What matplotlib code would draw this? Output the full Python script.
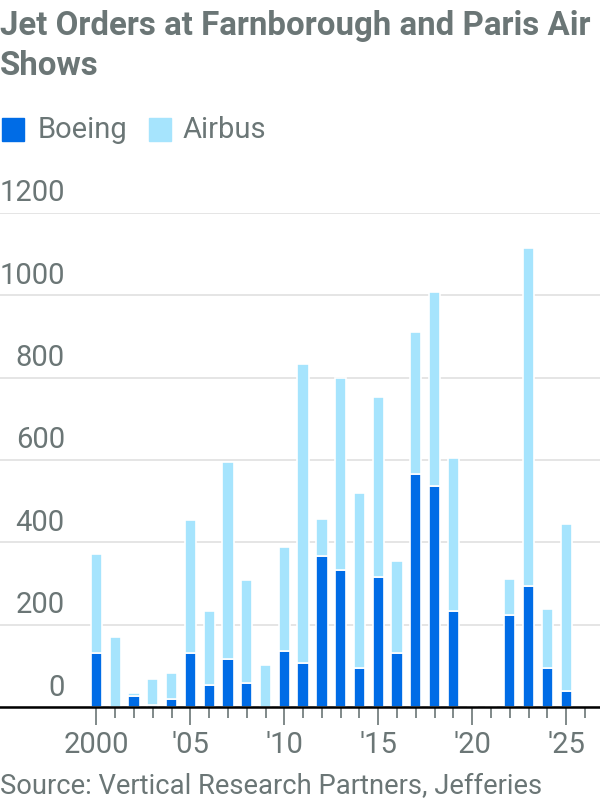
import matplotlib
matplotlib.use("Agg")
import matplotlib.pyplot as plt
from matplotlib.patches import Rectangle

plt.rcParams['font.family'] = ['Roboto', 'DejaVu Sans']

years = list(range(2000, 2026))
boeing = [132, 0, 26, 6, 21, 132, 55, 118, 59, 0, 137,
          108, 366, 332, 94, 317, 132, 565, 536, 234, 0, 0,
          225, 293, 94, 40]
airbus = [239, 170, 8, 63, 63, 322, 179, 477, 249, 103, 252,
          724, 92, 466, 427, 437, 224, 345, 471, 370, 0, 0,
          86, 822, 145, 404]
yticks = [0, 200, 400, 600, 800, 1000, 1200]
xtick_years = [2000, 2005, 2010, 2015, 2020, 2025]
xtick_labels = ['2000', "'05", "'10", "'15", "'20", "'25"]
minor_years = list(range(2000, 2027))

BOEING = '#006ce6'
AIRBUS = '#a6e4fd'
GREY = '#6b7676'

fig = plt.figure(figsize=(6, 8), dpi=100)
ax = fig.add_axes([0, 0.116, 1, 0.618])

ax.bar(years, boeing, width=0.6, color=BOEING, edgecolor='white', linewidth=1.2, zorder=3)
ax.bar(years, airbus, bottom=boeing, width=0.6, color=AIRBUS, edgecolor='white',
       linewidth=1.2, zorder=3)

ax.set_xlim(1994.87, 2026.8)
ax.set_ylim(0, 1200)
for s in ax.spines.values():
    s.set_visible(False)
ax.axhline(0, color='black', lw=1.8, zorder=4, clip_on=False)

ax.set_yticks(yticks)
ax.yaxis.grid(True, color='#e3e3e3', lw=1.3, zorder=0)
ax.tick_params(axis='y', length=0, labelleft=False)
for v in yticks:
    ax.annotate(str(v), xy=(0.108, v), xycoords=('axes fraction', 'data'),
                xytext=(0, 4), textcoords='offset points',
                ha='right', va='bottom', fontsize=21, color=GREY)

ax.set_xticks(xtick_years)
ax.set_xticklabels(xtick_labels)
ax.set_xticks(minor_years, minor=True)
ax.tick_params(axis='x', which='major', length=13, width=1.2, color=GREY,
               labelsize=21, labelcolor=GREY, pad=4)
ax.tick_params(axis='x', which='minor', length=8, width=1.2, color=GREY)

fig.text(0.0, 0.987, 'Jet Orders at Farnborough and Paris Air\nShows', ha='left', va='top',
         fontsize=23.8, fontweight='bold', color=GREY, linespacing=1.3)

# legend
fig.patches.append(Rectangle((0.003, 0.824), 0.037, 0.028, transform=fig.transFigure,
                             color=BOEING))
fig.text(0.062, 0.838, 'Boeing', fontsize=21, color=GREY, va='center')
fig.patches.append(Rectangle((0.248, 0.824), 0.037, 0.028, transform=fig.transFigure,
                             color=AIRBUS))
fig.text(0.305, 0.838, 'Airbus', fontsize=21, color=GREY, va='center')

fig.text(0.0, 0.0, 'Source: Vertical Research Partners, Jefferies', fontsize=19.7,
         color=GREY, ha='left', va='bottom')

fig.savefig('out.png', dpi=100)
